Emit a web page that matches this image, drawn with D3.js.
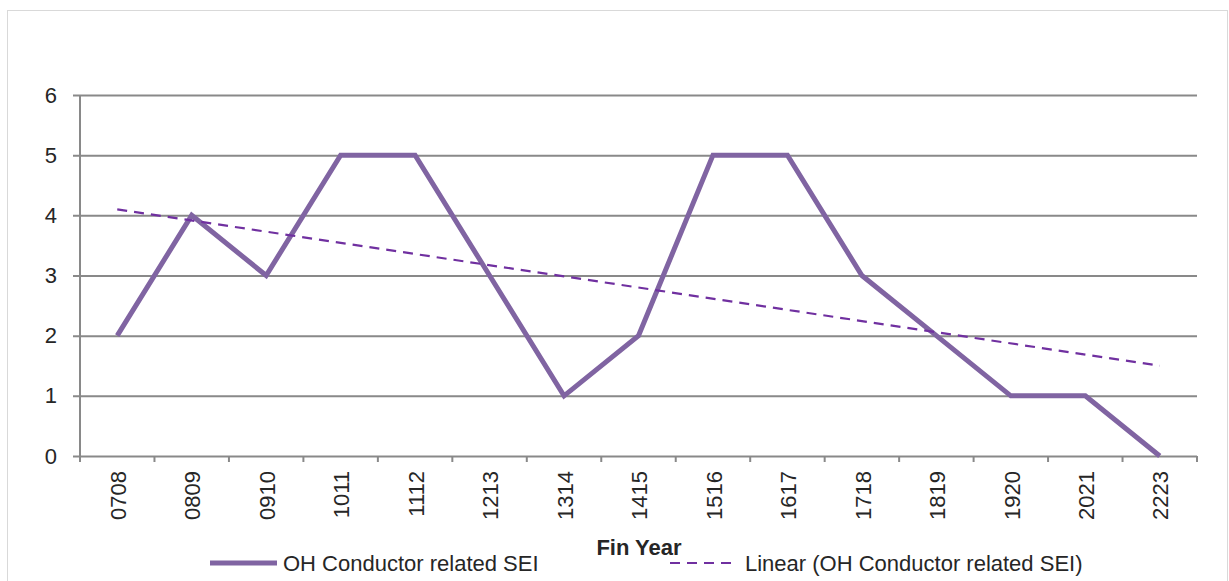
<!DOCTYPE html>
<html>
<head>
<meta charset="utf-8">
<script src="https://cdn.jsdelivr.net/npm/d3@7"></script>
<style>
  body { margin: 0; background: #fff; }
  svg text { font-family: "Liberation Sans", Arial, sans-serif; fill: #262626; }
</style>
</head>
<body>
<svg id="chart"></svg>
<script>
const years = ["0708", "0809", "0910", "1011", "1112", "1213", "1314", "1415",
  "1516", "1617", "1718", "1819", "1920", "2021", "2223"];
const seiCounts = [2, 4, 3, 5, 5, 3, 1, 2, 5, 5, 3, 2, 1, 1, 0];
const yTicks = [0, 1, 2, 3, 4, 5, 6];
const seriesName = "OH Conductor related SEI";
const trendName = "Linear (OH Conductor related SEI)";
const axisTitle = "Fin Year";

const width = 1229, height = 581;
const margin = { top: 95, right: 32, bottom: 125, left: 80 };
const innerW = width - margin.left - margin.right;
const innerH = height - margin.top - margin.bottom;

const svg = d3.select("#chart").attr("width", width).attr("height", height);

// outer chart frame
svg.append("rect")
  .attr("x", 7.5).attr("y", 10.5)
  .attr("width", 1220).attr("height", 600)
  .attr("fill", "none").attr("stroke", "#d9d9d9");

const g = svg.append("g").attr("transform", `translate(${margin.left},${margin.top})`);

const x = d3.scaleBand().domain(years).range([0, innerW]);
const y = d3.scaleLinear().domain([0, 6]).range([innerH, 0]);

// gridlines + y axis
const yAxis = g.append("g")
  .call(d3.axisLeft(y).tickValues(yTicks).tickSize(-innerW - 7).tickPadding(16).tickFormat(d3.format("d")))
  .attr("transform", "translate(-7,0)");
yAxis.select(".domain").remove();
yAxis.selectAll("line").attr("stroke", "#898989").attr("stroke-width", 2);
yAxis.selectAll("text").attr("font-size", 22).attr("fill", "#262626")
  .style("font-family", "'Liberation Sans', Arial, sans-serif");

g.append("line")
  .attr("x1", 0).attr("x2", 0).attr("y1", 0).attr("y2", innerH + 6)
  .attr("stroke", "#898989").attr("stroke-width", 2);

// x axis with ticks on category boundaries
const xAxis = g.append("g").attr("transform", `translate(0,${innerH})`);
xAxis.selectAll("line.tick")
  .data(years.slice(1).concat(["_end"]))
  .join("line")
  .attr("class", "tick")
  .attr("x1", (d, i) => i < years.length - 1 ? x(d) : innerW)
  .attr("x2", (d, i) => i < years.length - 1 ? x(d) : innerW)
  .attr("y1", 0).attr("y2", 6)
  .attr("stroke", "#898989").attr("stroke-width", 2);

xAxis.selectAll("text")
  .data(years)
  .join("text")
  .attr("transform", d => `translate(${x(d) + x.bandwidth() / 2 + 1},15) rotate(-90)`)
  .attr("text-anchor", "end")
  .attr("dy", "0.35em")
  .attr("font-size", 22)
  .text(d => d);

// data line
const cx = d => x(d) + x.bandwidth() / 2;
const line = d3.line().x(d => cx(d.year)).y(d => y(d.value));
const pts = years.map((yr, i) => ({ year: yr, value: seiCounts[i] }));

g.append("path")
  .datum(pts)
  .attr("d", line)
  .attr("fill", "none")
  .attr("stroke", "#8064a2")
  .attr("stroke-width", 5);

// linear trendline (least squares, as the spreadsheet computes it)
const n = seiCounts.length;
const xs = d3.range(1, n + 1);
const mx = d3.mean(xs), my = d3.mean(seiCounts);
const slope = d3.sum(xs, (v, i) => (v - mx) * (seiCounts[i] - my)) / d3.sum(xs, v => (v - mx) ** 2);
const icpt = my - slope * mx;
const trend = [
  { year: years[0], value: icpt + slope * 1 },
  { year: years[n - 1], value: icpt + slope * n }
];
g.append("path")
  .datum(trend)
  .attr("d", line)
  .attr("fill", "none")
  .attr("stroke", "#7030a0")
  .attr("stroke-width", 2.2)
  .attr("stroke-dasharray", "10,7");

// axis title
svg.append("text")
  .attr("x", 639).attr("y", 555)
  .attr("text-anchor", "middle")
  .attr("font-size", 22).attr("font-weight", "bold")
  .attr("fill", "#0d0d0d")
  .text(axisTitle);

// legend
const leg = svg.append("g").attr("transform", "translate(0,563)");
leg.append("line").attr("x1", 210).attr("x2", 277).attr("y1", 0).attr("y2", 0)
  .attr("stroke", "#8064a2").attr("stroke-width", 5);
leg.append("text").attr("x", 283).attr("dy", "0.35em").attr("font-size", 22).text(seriesName);
leg.append("line").attr("x1", 670).attr("x2", 736).attr("y1", 0).attr("y2", 0)
  .attr("stroke", "#7030a0").attr("stroke-width", 2.2).attr("stroke-dasharray", "10,7");
leg.append("text").attr("x", 745).attr("dy", "0.35em").attr("font-size", 22).text(trendName);
</script>
</body>
</html>
